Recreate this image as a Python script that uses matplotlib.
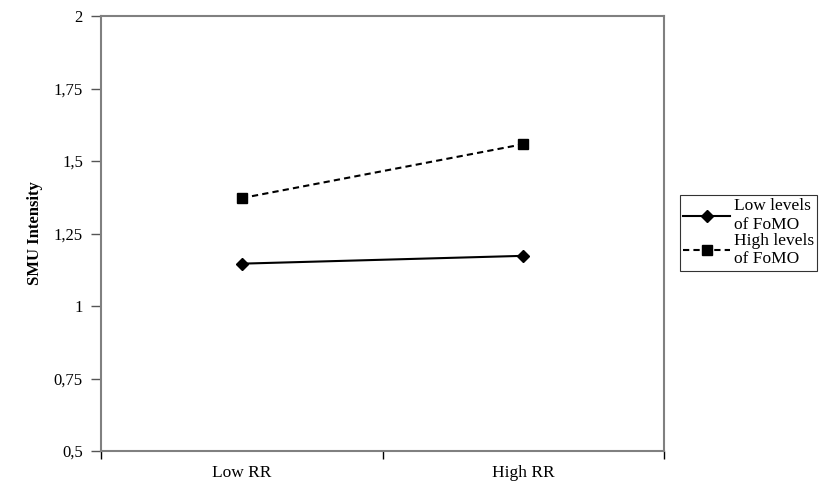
import matplotlib.pyplot as plt
from matplotlib.ticker import FixedLocator, NullFormatter

plt.rcParams['font.family'] = ['Liberation Serif', 'DejaVu Serif']

# Data
categories = ["Low RR", "High RR"]
low_fomo = [1.146, 1.173]
high_fomo = [1.372, 1.558]
y_ticks = [0.5, 0.75, 1, 1.25, 1.5, 1.75, 2]
y_tick_labels = ["0,5", "0,75", "1", "1,25", "1,5", "1,75", "2"]

fig = plt.figure(figsize=(8.24, 4.9), dpi=100)
ax = fig.add_axes([101 / 824, 1 - 451 / 490, (664 - 101) / 824, (451 - 16) / 490])

x = [i + 0.5 for i in range(len(categories))]
ax.plot(x, low_fomo, color="black", linewidth=1.5, marker="D", markersize=6,
        label="Low levels\nof FoMO")
ax.plot(x, high_fomo, color="black", linewidth=1.5, linestyle=(0, (3, 2)),
        marker="s", markersize=7, label="High levels\nof FoMO")

ax.set_xlim(0, len(categories))
ax.set_ylim(0.5, 2)

# category axis: ticks between categories, labels centered
ax.xaxis.set_major_locator(FixedLocator([0, 1, 2]))
ax.xaxis.set_major_formatter(NullFormatter())
ax.xaxis.set_minor_locator(FixedLocator(x))
ax.set_xticklabels(categories, minor=True, fontsize=12.5)
ax.tick_params(axis="x", which="major", length=6, width=1, color="black", direction="out")
ax.tick_params(axis="x", which="minor", length=0, pad=10)

ax.set_yticks(y_ticks)
ax.set_yticklabels(y_tick_labels, fontsize=12)
ax.tick_params(axis="y", length=7, width=1, color="#555555", direction="out", pad=6)

ax.set_ylabel("SMU Intensity", fontsize=12, fontweight="bold", labelpad=8)

for s in ax.spines.values():
    s.set_color("#808080")
    s.set_linewidth(1.5)

leg = fig.legend(loc="upper left", bbox_to_anchor=(680 / 824, 1 - 195 / 490),
                 fontsize=12.5, frameon=True, fancybox=False, edgecolor="black",
                 handlelength=2.7, handletextpad=0.2, borderpad=0.2,
                 labelspacing=0.0, borderaxespad=0)
leg.get_frame().set_linewidth(0.8)

fig.savefig("out.png", dpi=100)
